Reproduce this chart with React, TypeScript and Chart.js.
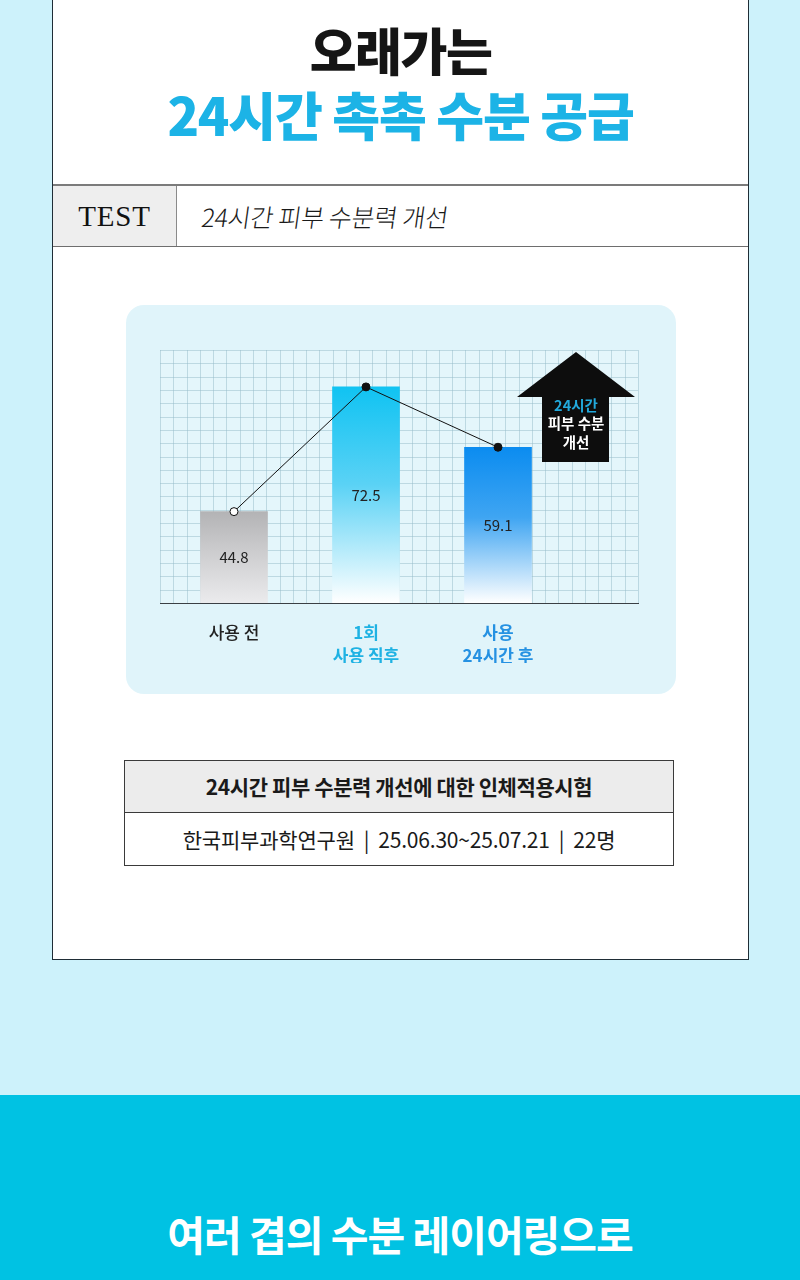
import React, { useEffect, useRef } from 'react';
import { Chart, registerables } from 'chart.js';

Chart.register(...registerables);

// ---- data ----
const categories: string[][] = [['사용 전'], ['1회', '사용 직후'], ['사용', '24시간 후']];
const values: number[] = [44.8, 72.5, 59.1];
const valueLabels: string[] = ['44.8', '72.5', '59.1'];
const categoryColors: string[] = ['#222222', '#1fb2e3', '#2591e2'];
const barTopColors: string[] = ['#b3b3b5', '#10c3f2', '#0b8cf0'];
const barMidColors: string[] = ['#cdcdcf', '#5ad2f5', '#3fa5f2'];
const barBottomColors: string[] = ['#ebebed', '#ffffff', '#ffffff'];
const pointFills: string[] = ['#ffffff', '#111111', '#111111'];
const arrowLines: string[] = ['24시간', '피부 수분', '개선'];
const arrowLineColors: string[] = ['#22a9dc', '#ffffff', '#ffffff'];

const Y_MIN = 24.5;
const Y_MAX = 80.7;
const X_MIN = -0.5606;
const X_MAX = 3.0606;

const KR = '"Noto Sans CJK KR", "Noto Sans", sans-serif';

const gridPlugin = {
  id: 'paperGrid',
  beforeDraw(chart: any) {
    const { ctx, chartArea: a } = chart;
    if (!a) return;
    const cols = 36;
    const rows = 19;
    const cw = (a.right - a.left) / cols;
    const ch = (a.bottom - a.top) / rows;
    ctx.save();
    ctx.fillStyle = '#e4f6fb';
    ctx.fillRect(a.left, a.top, a.right - a.left, a.bottom - a.top);
    ctx.strokeStyle = 'rgba(150,188,202,0.5)';
    ctx.lineWidth = 1;
    ctx.beginPath();
    for (let i = 0; i <= cols; i++) {
      const x = Math.round(a.left + i * cw) + 0.5;
      ctx.moveTo(x, a.top);
      ctx.lineTo(x, a.bottom);
    }
    for (let j = 0; j <= rows; j++) {
      const y = Math.round(a.top + j * ch) + 0.5;
      ctx.moveTo(a.left, y);
      ctx.lineTo(a.right, y);
    }
    ctx.stroke();
    ctx.restore();
  },
};

const valueLabelPlugin = {
  id: 'valueLabels',
  afterDatasetsDraw(chart: any) {
    const meta = chart.getDatasetMeta(0);
    const { ctx, chartArea: a } = chart;
    ctx.save();
    ctx.font = `400 15px ${KR}`;
    ctx.fillStyle = '#222222';
    ctx.textAlign = 'center';
    ctx.textBaseline = 'middle';
    meta.data.forEach((el: any, i: number) => {
      const bottom = Math.min(el.base, a.bottom);
      ctx.fillText(valueLabels[i], el.x, (el.y + bottom) / 2);
    });
    ctx.restore();
  },
};

const arrowPlugin = {
  id: 'arrowBadge',
  afterDraw(chart: any) {
    const { ctx, chartArea: a } = chart;
    if (!a) return;
    const cx = a.right - 62;
    const tipY = a.top + 2;
    const headY = a.top + 47;
    const baseY = a.top + 112;
    ctx.save();
    ctx.fillStyle = '#0d0d0d';
    ctx.beginPath();
    ctx.moveTo(cx, tipY);
    ctx.lineTo(cx + 59, headY);
    ctx.lineTo(cx + 33, headY);
    ctx.lineTo(cx + 33, baseY);
    ctx.lineTo(cx - 34, baseY);
    ctx.lineTo(cx - 34, headY);
    ctx.lineTo(cx - 59, headY);
    ctx.closePath();
    ctx.fill();
    ctx.font = `700 14.5px ${KR}`;
    ctx.textAlign = 'center';
    ctx.textBaseline = 'middle';
    arrowLines.forEach((t, i) => {
      ctx.fillStyle = arrowLineColors[i];
      ctx.fillText(t, cx, a.top + 55 + i * 18.5);
    });
    ctx.restore();
  },
};

function ChartPanel() {
  const ref = useRef<HTMLCanvasElement | null>(null);
  useEffect(() => {
    if (!ref.current) return;
    const points = values.map((v, i) => ({ x: i, y: v }));
    const chart = new Chart(ref.current, {
      type: 'bar',
      data: {
        datasets: [
          {
            type: 'bar',
            data: points,
            order: 2,
            barThickness: 67,
            borderWidth: 0,
            backgroundColor: (c: any) => {
              const i = c.dataIndex ?? 0;
              const chartObj = c.chart;
              const area = chartObj.chartArea;
              if (!area || c.type !== 'data') return barTopColors[i];
              const top = chartObj.scales.y.getPixelForValue(values[i]);
              const g = chartObj.ctx.createLinearGradient(0, top, 0, area.bottom);
              g.addColorStop(0, barTopColors[i]);
              g.addColorStop(0.45, barMidColors[i]);
              g.addColorStop(1, barBottomColors[i]);
              return g;
            },
          } as any,
          {
            type: 'line',
            data: points,
            order: 1,
            borderColor: '#111111',
            borderWidth: 1,
            pointRadius: 4,
            pointHoverRadius: 4,
            pointBackgroundColor: pointFills,
            pointBorderColor: '#111111',
            pointBorderWidth: 1,
            tension: 0,
          } as any,
        ],
      },
      options: {
        animation: false,
        responsive: false,
        devicePixelRatio: 1,
        layout: { padding: { left: 34, right: 38, top: 45, bottom: 31 } },
        plugins: { legend: { display: false }, tooltip: { enabled: false } },
        scales: {
          x: {
            type: 'linear',
            offset: false,
            min: X_MIN,
            max: X_MAX,
            afterBuildTicks: (scale: any) => {
              scale.ticks = categories.map((_, i) => ({ value: i }));
            },
            afterFit: (scale: any) => {
              scale.height = 60;
            },
            grid: { display: false, drawTicks: false, offset: false },
            border: { display: true, color: '#3a3f44', width: 1 },
            ticks: {
              autoSkip: false,
              maxRotation: 0,
              padding: 18,
              callback: (v: any) => categories[v as number] ?? '',
              color: (c: any) => categoryColors[c.index] ?? '#222',
              font: (c: any) => ({
                family: KR,
                size: 17,
                weight: c.index === 0 ? '500' : '700',
                lineHeight: 1.35,
              }),
            },
          },
          y: {
            type: 'linear',
            display: false,
            min: Y_MIN,
            max: Y_MAX,
          },
        },
      },
      plugins: [gridPlugin, valueLabelPlugin, arrowPlugin],
    } as any);
    return () => chart.destroy();
  }, []);
  return <canvas ref={ref} width={550} height={389} style={{ display: 'block', width: 550, height: 389 }} />;
}

export default function App() {
  const abs = (s: React.CSSProperties): React.CSSProperties => ({ position: 'absolute', ...s });
  return (
    <div style={{ position: 'absolute', left: 0, top: 0, width: 800, height: 1280, background: '#cdf2fb', overflow: 'hidden', fontFamily: KR }}>
      {/* white card */}
      <div style={abs({ left: 52, top: -2, width: 695, height: 960, background: '#ffffff', border: '1px solid #1f2d36' })} />
      {/* titles */}
      <div style={abs({ left: 52, width: 697, top: 17, height: 64, textAlign: 'center', fontSize: 51, fontWeight: 800, lineHeight: '64px', letterSpacing: -1.5, color: '#151515' })}>오래가는</div>
      <div style={abs({ left: 52, width: 697, top: 82, height: 64, textAlign: 'center', fontSize: 52, fontWeight: 800, lineHeight: '64px', letterSpacing: -1.2, color: '#1cb3e6' })}>24시간 촉촉 수분 공급</div>
      {/* TEST row */}
      <div style={abs({ left: 53, top: 184, width: 695, height: 2, background: '#7b7b7b' })} />
      <div style={abs({ left: 53, top: 246, width: 695, height: 1, background: '#6e6e6e' })} />
      <div style={abs({ left: 53, top: 186, width: 123, height: 60, background: '#eeeeee', borderRight: '1px solid #8a8a8a' })} />
      <div style={abs({ left: 53, top: 186, width: 123, height: 60, lineHeight: '60px', textAlign: 'center', fontFamily: '"Liberation Serif", "DejaVu Serif", serif', fontSize: 29, letterSpacing: 0.8, color: '#111' })}>TEST</div>
      <div style={abs({ left: 202, top: 186, height: 60, lineHeight: '60px', fontSize: 25, fontWeight: 300, color: '#1a1a1a', transform: 'skewX(-8deg)', letterSpacing: -0.3, whiteSpace: 'nowrap' })}>24시간 피부 수분력 개선</div>
      {/* chart panel */}
      <div style={abs({ left: 126, top: 305, width: 550, height: 389, borderRadius: 18, background: '#e0f4fa', overflow: 'hidden' })}>
        <ChartPanel />
      </div>
      {/* info table */}
      <div style={abs({ left: 124, top: 760, width: 548, height: 104, border: '1px solid #3a3a3a', background: '#ffffff' })}>
        <div style={{ height: 51, lineHeight: '51px', background: '#ececec', borderBottom: '1px solid #3a3a3a', textAlign: 'center', fontSize: 21, fontWeight: 600, letterSpacing: -0.4, color: '#1a1a1a' }}>24시간 피부 수분력 개선에 대한 인체적용시험</div>
        <div style={{ height: 52, lineHeight: '52px', textAlign: 'center', fontSize: 21, fontWeight: 400, letterSpacing: -0.2, color: '#1a1a1a', whiteSpace: 'nowrap' }}>한국피부과학연구원 &nbsp;|&nbsp; 25.06.30~25.07.21 &nbsp;|&nbsp; 22명</div>
      </div>
      {/* bottom band */}
      <div style={abs({ left: 0, top: 1095, width: 800, height: 185, background: '#00c2e3' })} />
      <div style={abs({ left: 0, width: 800, top: 1204, height: 58, lineHeight: '58px', textAlign: 'center', fontSize: 41, fontWeight: 700, letterSpacing: -1, color: '#ffffff' })}>여러 겹의 수분 레이어링으로</div>
    </div>
  );
}
